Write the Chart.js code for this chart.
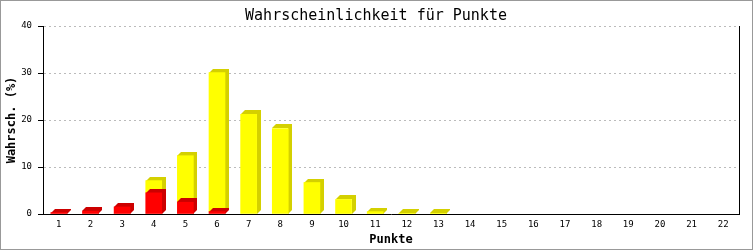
<!DOCTYPE html>
<html lang="de">
<head>
    <meta charset="UTF-8">
    <title>Wahrscheinlichkeit für Punkte</title>
    <script src="https://cdn.jsdelivr.net/npm/chart.js@4"></script>
    <style>
        body {
            margin: 0;
            background: #fff;
        }
        #chart {
            display: block;
        }
    </style>
</head>
<body>
    <canvas id="chart" width="753" height="250"></canvas>

    <script>
        // data
        const punkte = ['1','2','3','4','5','6','7','8','9','10','11','12','13','14','15','16','17','18','19','20','21','22'];
        const rotWerte = [0.3, 0.6, 1.5, 4.5, 2.5, 0.5, 0, 0, 0, 0, 0, 0, 0, 0, 0, 0, 0, 0, 0, 0, 0, 0];
        const gelbWerte = [0, 0, 0, 2.6, 9.9, 29.6, 21.2, 18.2, 6.7, 3.1, 0.5, 0.15, 0.15, 0, 0, 0, 0, 0, 0, 0, 0, 0];
        const yTicks = [0, 10, 20, 30, 40];

        const titel = 'Wahrscheinlichkeit für Punkte';
        const xTitel = 'Punkte';
        const yTitel = 'Wahrsch. (%)';

        const rot = '#ff0000', rotDunkel = '#cc0000';
        const gelb = '#ffff00', gelbDunkel = '#d4d000';
        const tiefe = 4;

        // fake 3D side/top of each bar, drawn behind it
        const barShadow = {
            id: 'barShadow',
            beforeDatasetDraw(chart, args) {
                const ctx = chart.ctx;
                const ds = chart.data.datasets[args.index];
                ctx.save();
                ctx.fillStyle = ds.schatten;
                args.meta.data.forEach((bar, i) => {
                    if (!ds.data[i]) return;
                    const l = Math.round(bar.x - bar.width / 2), r = l + Math.round(bar.width);
                    const top = Math.round(bar.y), bot = Math.round(bar.base);
                    ctx.beginPath();
                    ctx.moveTo(l, top);
                    ctx.lineTo(l + tiefe, top - tiefe);
                    ctx.lineTo(r + tiefe, top - tiefe);
                    ctx.lineTo(r + tiefe, bot - tiefe);
                    ctx.lineTo(r, bot);
                    ctx.lineTo(r, top);
                    ctx.closePath();
                    ctx.fill();
                });
                ctx.restore();
            }
        };

        const deko = {
            id: 'deko',
            afterDraw(chart) {
                const ctx = chart.ctx;
                const a = chart.chartArea;
                ctx.save();
                // right frame line of the plot
                ctx.strokeStyle = '#000';
                ctx.lineWidth = 1;
                ctx.beginPath();
                ctx.moveTo(a.right + 0.5, a.top);
                ctx.lineTo(a.right + 0.5, a.bottom + 0.5);
                ctx.stroke();
                // outer grey border
                ctx.strokeStyle = '#999';
                ctx.strokeRect(0.5, 0.5, chart.width - 1, chart.height - 1);

                ctx.fillStyle = '#000';
                ctx.textAlign = 'center';
                ctx.textBaseline = 'alphabetic';
                ctx.font = '15px "DejaVu Sans Mono"';
                ctx.fillText(titel, 376, 20);
                ctx.font = 'bold 12px "DejaVu Sans Mono"';
                ctx.fillText(xTitel, (a.left + a.right) / 2, 243);
                ctx.translate(15, (a.top + a.bottom) / 2);
                ctx.rotate(-Math.PI / 2);
                ctx.fillText(yTitel, 0, 0);
                ctx.restore();
            }
        };

        const tickFont = { family: 'DejaVu Sans Mono', size: 9 };
        const farbe = col => c => (c.raw ? col : 'rgba(0,0,0,0)');

        new Chart(document.getElementById('chart'), {
            type: 'bar',
            data: {
                labels: punkte,
                datasets: [
                    { data: rotWerte, backgroundColor: farbe(rot), schatten: rotDunkel, barThickness: 16 },
                    { data: gelbWerte, backgroundColor: farbe(gelb), schatten: gelbDunkel, barThickness: 16 }
                ]
            },
            options: {
                responsive: false,
                devicePixelRatio: 1,
                animation: false,
                layout: { padding: { left: 0, top: 26, right: 14, bottom: 0 } },
                plugins: {
                    legend: { display: false },
                    tooltip: { enabled: false }
                },
                scales: {
                    x: {
                        stacked: true,
                        grid: { display: false, drawTicks: false },
                        border: { display: true, color: '#000', width: 1 },
                        ticks: { color: '#000', font: tickFont, padding: 5, maxRotation: 0, autoSkip: false },
                        afterFit(scale) { scale.height = 36; }
                    },
                    y: {
                        stacked: true,
                        min: 0,
                        max: 40,
                        afterBuildTicks(scale) { scale.ticks = yTicks.map(v => ({ value: v })); },
                        grid: {
                            color: c => (c.tick && c.tick.value === 0 ? 'rgba(0,0,0,0)' : '#bbb'),
                            tickColor: '#000',
                            tickLength: 5
                        },
                        border: { display: true, color: '#000', width: 1, dash: [2, 3] },
                        ticks: { color: '#000', font: tickFont, padding: 6 },
                        afterFit(scale) { scale.width = 43; }
                    }
                }
            },
            plugins: [barShadow, deko]
        });
    </script>
</body>
</html>
